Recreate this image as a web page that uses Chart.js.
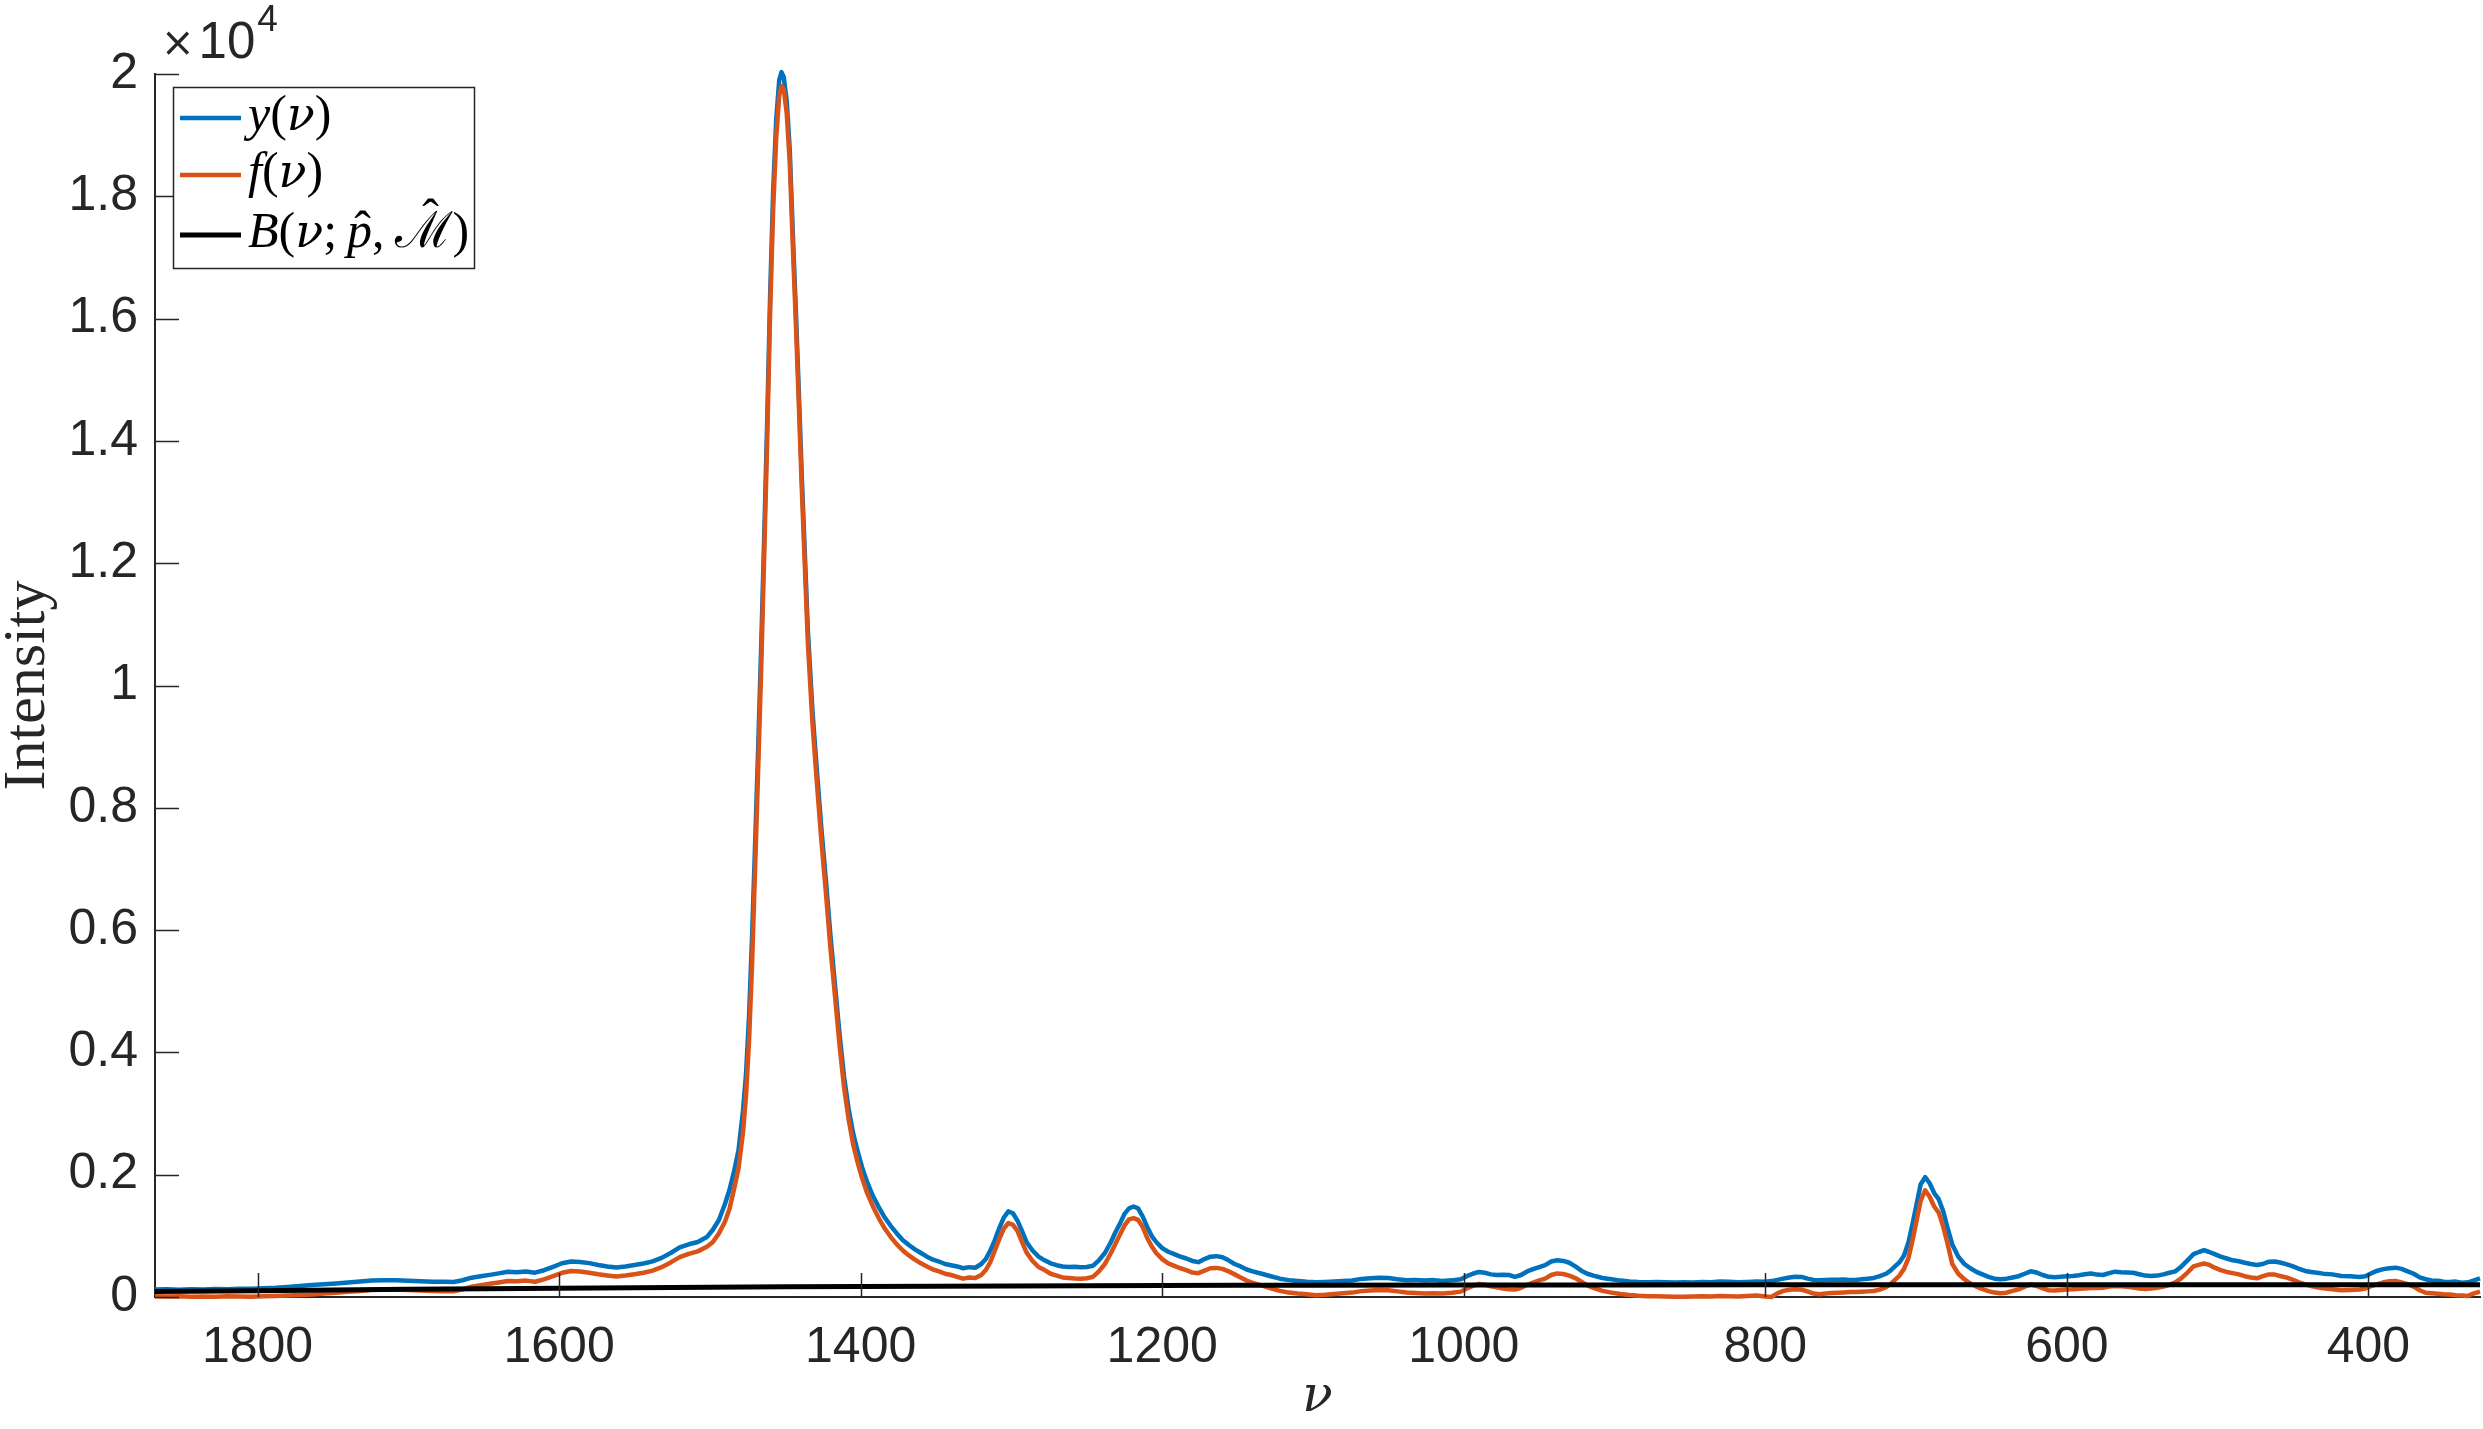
<!DOCTYPE html>
<html>
<head>
<meta charset="utf-8">
<title>Spectrum and baseline fit</title>
<script src="https://cdn.jsdelivr.net/npm/chart.js@4.4.1/dist/chart.umd.min.js"></script>
<style>
  html, body { margin: 0; padding: 0; background: #fff; }
  #wrap { width: 2483px; height: 1429px; }
</style>
</head>
<body>
<div id="wrap"><canvas id="spectrum" width="2483" height="1429"></canvas></div>
<script>
// ============ Data ============

// wavenumber grid (shared by y and f)
const nu = [
  1868, 1860, 1852, 1844, 1836, 1828, 1820, 1812, 1804, 1796,
  1788, 1780, 1772, 1764, 1756, 1748, 1740, 1732, 1724, 1716,
  1708, 1700, 1692, 1684, 1676, 1670, 1664, 1658, 1652, 1646,
  1640, 1634, 1628, 1622, 1616, 1610, 1604, 1598, 1592, 1586,
  1580, 1574, 1568, 1562, 1556, 1550, 1544, 1538, 1532, 1526,
  1520, 1514, 1508, 1502, 1498, 1494, 1490, 1487, 1484, 1481,
  1478, 1476, 1474, 1472, 1470, 1468, 1466, 1464, 1462, 1460,
  1458, 1456, 1454, 1452.5, 1451, 1449, 1447, 1445, 1443, 1441,
  1439, 1437, 1435, 1432, 1429, 1426, 1423, 1420, 1417, 1414,
  1411, 1408, 1405, 1402, 1399, 1396, 1392, 1388, 1384, 1380,
  1376, 1372, 1368, 1364, 1360, 1356, 1352, 1348, 1344, 1340,
  1336, 1332, 1328, 1324, 1320, 1317, 1314, 1311, 1308, 1305,
  1302, 1299, 1296, 1293, 1290, 1286, 1282, 1278, 1274, 1270,
  1266, 1262, 1258, 1254, 1250, 1246, 1242, 1238, 1234, 1231,
  1228, 1225, 1222, 1219, 1216, 1213, 1210, 1207, 1204, 1200,
  1196, 1192, 1188, 1184, 1180, 1176, 1172, 1168, 1164, 1160,
  1156, 1152, 1148, 1144, 1140, 1134, 1128, 1122, 1116, 1110,
  1104, 1098, 1092, 1086, 1080, 1074, 1068, 1062, 1056, 1050,
  1044, 1038, 1032, 1026, 1020, 1014, 1008, 1002, 998, 994,
  990, 986, 982, 978, 974, 970, 966, 962, 958, 954,
  950, 946, 942, 938, 934, 930, 926, 922, 918, 914,
  908, 902, 896, 890, 884, 878, 872, 866, 860, 854,
  848, 842, 836, 830, 824, 818, 812, 806, 800, 796,
  792, 788, 784, 780, 776, 772, 768, 764, 760, 756,
  752, 748, 744, 740, 736, 732, 728, 724, 720, 717,
  714, 711, 708, 705, 702, 699, 697, 694, 691, 688,
  685, 682, 679, 676, 672, 668, 664, 660, 656, 652,
  648, 644, 640, 636, 632, 628, 624, 620, 616, 612,
  608, 604, 600, 596, 592, 588, 584, 580, 576, 572,
  568, 564, 560, 556, 552, 548, 544, 540, 536, 532,
  528, 524, 520, 516, 512, 509, 506, 502, 498, 494,
  490, 486, 482, 478, 474, 470, 466, 462, 458, 454,
  450, 446, 442, 438, 434, 430, 424, 418, 412, 406,
  402, 398, 394, 390, 386, 382, 378, 374, 370, 366,
  362, 358, 354, 350, 346, 342, 338, 334, 330, 326
];

// measured spectrum y(nu)
const ySpectrum = [
  122, 128, 120, 126, 124, 132, 128, 134, 136, 142,
  150, 164, 178, 196, 210, 222, 238, 254, 268, 272,
  274, 266, 256, 248, 250, 246, 274, 316, 338, 362,
  386, 412, 404, 418, 398, 438, 492, 552, 580, 574,
  554, 524, 500, 482, 500, 522, 548, 582, 640, 720,
  812, 862, 900, 980, 1100, 1260, 1520, 1750, 2050, 2400,
  3050, 3650, 4600, 5900, 7400, 8950, 10600, 12400, 14300, 16400,
  18100, 19250, 19900, 20030, 19950, 19550, 18750, 17400, 16150, 14800,
  13400, 12150, 10900, 9600, 8600, 7650, 6800, 5900, 5100, 4300,
  3600, 3080, 2680, 2380, 2120, 1900, 1660, 1470, 1300, 1160,
  1040, 930, 850, 780, 720, 660, 610, 580, 540, 520,
  500, 470, 488, 478, 540, 620, 760, 930, 1130, 1300,
  1400, 1370, 1250, 1080, 900, 760, 660, 600, 550, 520,
  500, 490, 494, 486, 492, 510, 600, 720, 900, 1060,
  1200, 1360, 1450, 1480, 1450, 1320, 1150, 1000, 900, 800,
  740, 700, 660, 630, 590, 570, 620, 660, 668, 650,
  600, 540, 500, 450, 420, 380, 340, 300, 276, 262,
  248, 240, 246, 252, 260, 270, 296, 306, 314, 312,
  290, 274, 280, 270, 276, 262, 272, 290, 340, 380,
  410, 396, 370, 358, 364, 360, 330, 360, 418, 454,
  488, 520, 580, 600, 590, 560, 500, 430, 380, 350,
  310, 290, 268, 252, 244, 240, 246, 242, 236, 240,
  236, 246, 240, 252, 248, 240, 246, 252, 248, 260,
  280, 300, 320, 330, 328, 300, 280, 272, 280, 284,
  282, 286, 280, 278, 290, 300, 312, 340, 380, 430,
  500, 570, 680, 900, 1240, 1600, 1840, 1960, 1860, 1700,
  1600, 1400, 1120, 860, 660, 540, 470, 410, 370, 330,
  300, 290, 300, 320, 340, 380, 420, 400, 360, 330,
  322, 330, 340, 344, 356, 372, 384, 366, 360, 390,
  414, 404, 400, 396, 372, 350, 342, 350, 370, 396,
  420, 500, 600, 700, 740, 765, 740, 700, 660, 630,
  600, 584, 560, 540, 524, 540, 578, 580, 560, 534,
  500, 460, 426, 410, 396, 382, 370, 344, 338, 326,
  340, 390, 430, 456, 470, 480, 460, 420, 380, 320,
  290, 270, 266, 250, 246, 252, 234, 240, 270, 305
];

// baseline-corrected spectrum f(nu)
const fCorrected = [
  12, 8, 14, 6, 10, 4, 12, 8, 6, 14,
  18, 24, 32, 42, 58, 68, 84, 100, 118, 124,
  122, 114, 106, 98, 96, 92, 124, 168, 192, 216,
  238, 262, 258, 268, 250, 288, 340, 396, 424, 418,
  398, 372, 350, 334, 350, 372, 396, 432, 488, 566,
  652, 706, 746, 820, 900, 1040, 1230, 1440, 1760, 2100,
  2700, 3300, 4200, 5450, 7000, 8600, 10250, 12100, 14000, 16150,
  17800, 18950, 19650, 19800, 19760, 19350, 18550, 17200, 15950, 14600,
  13200, 11950, 10700, 9400, 8400, 7450, 6600, 5700, 4920, 4120,
  3430, 2910, 2500, 2200, 1940, 1720, 1490, 1290, 1120, 980,
  860, 760, 680, 610, 550, 500, 450, 420, 380, 360,
  330, 300, 318, 310, 360, 440, 570, 760, 950, 1120,
  1210, 1180, 1080, 900, 730, 590, 490, 440, 380, 350,
  320, 310, 302, 300, 306, 330, 420, 540, 720, 870,
  1020, 1170, 1270, 1290, 1260, 1150, 970, 830, 720, 620,
  550, 510, 470, 440, 400, 390, 430, 470, 476, 460,
  420, 370, 320, 270, 230, 190, 140, 100, 72, 56,
  44, 30, 36, 48, 62, 72, 96, 106, 114, 110,
  92, 72, 64, 56, 60, 58, 70, 88, 140, 180,
  214, 200, 176, 160, 140, 126, 122, 150, 200, 236,
  272, 300, 360, 386, 376, 350, 310, 250, 190, 150,
  100, 72, 48, 32, 20, 14, 12, 10, 6, 4,
  8, 14, 10, 18, 14, 10, 16, 24, 8, 0,
  60, 100, 118, 126, 120, 90, 56, 46, 58, 66,
  70, 74, 80, 82, 86, 92, 98, 120, 160, 210,
  280, 350, 460, 640, 970, 1330, 1570, 1745, 1640, 1480,
  1380, 1150, 860, 540, 380, 290, 220, 170, 130, 96,
  72, 60, 70, 100, 124, 170, 204, 180, 140, 110,
  106, 114, 124, 126, 134, 140, 146, 148, 152, 170,
  180, 174, 166, 154, 140, 132, 140, 150, 170, 200,
  240, 310, 400, 500, 530, 548, 530, 480, 440, 410,
  390, 370, 340, 320, 306, 340, 370, 366, 340, 316,
  280, 240, 206, 180, 160, 142, 128, 110, 116, 124,
  140, 180, 210, 240, 256, 262, 240, 210, 170, 110,
  70, 60, 52, 44, 40, 30, 24, 18, 60, 87
];

// fitted baseline B(nu; p, M)
const nuBase = [1868, 1800, 1750, 1700, 1650, 1600, 1550, 1500, 1450, 1400, 1350, 1300,
                1250, 1200, 1150, 1100, 1000, 900, 800, 700, 600, 500, 400, 326];
const baseline = [88, 104, 116, 126, 136, 145, 153, 160, 166, 172, 177, 181,
                  185, 188, 191, 193, 196, 198, 200, 201, 201, 202, 202, 202];

// axes
const xTicks = [1800, 1600, 1400, 1200, 1000, 800, 600, 400];
const yTicks = [0, 2000, 4000, 6000, 8000, 10000, 12000, 14000, 16000, 18000, 20000];
const yTickLabels = ['0', '0.2', '0.4', '0.6', '0.8', '1', '1.2', '1.4', '1.6', '1.8', '2'];

// legend text, split into [text, font, hat] pieces
// font: 'i' italic serif, 'r' upright serif, 'g' greek italic
const legendLabels = [
    [['y', 'i'], ['(', 'r'], ['ν', 'g'], [')', 'r']],
    [['f', 'i'], ['(', 'r'], ['ν', 'g'], [')', 'r']],
    [['B', 'i'], ['(', 'r'], ['ν', 'g'], [';\u2009', 'r'], ['p', 'i', 'low'], [',\u2009', 'r'], ['ℳ', 'r', 'high'], [')', 'r']]
];

const BLUE = '#0072BD';
const ORANGE = '#D95319';
const AXIS = '#262626';

// ============ Helpers ============

function pairs(xs, ys) {
    return xs.map((x, i) => ({ x: x, y: ys[i] }));
}

function fontFor(kind, size) {
    if (kind === 'g') return 'italic ' + Math.round(size * 0.92) + 'px "DejaVu Serif", serif';
    if (kind === 'i') return 'italic ' + size + 'px "Liberation Serif", serif';
    return size + 'px "Liberation Serif", "DejaVu Serif", serif';
}

function drawRichText(ctx, parts, x, y, size) {
    parts.forEach(([txt, kind, hat]) => {
        ctx.font = fontFor(kind, size);
        ctx.fillText(txt, x, y);
        const w = ctx.measureText(txt).width;
        if (hat) {
            ctx.save();
            ctx.font = size + 'px "Liberation Serif", serif';
            ctx.textAlign = 'center';
            const lift = hat === 'high' ? size * 0.26 : size * 0.02;
            ctx.fillText('\u02C6', x + w / 2 + w * 0.12, y - lift);
            ctx.restore();
        }
        x += w;
    });
}

// ============ Plugins ============

const innerTicks = {
    id: 'innerTicks',
    afterDatasetsDraw(chart) {
        const { ctx, chartArea, scales } = chart;
        const len = 24;
        ctx.save();
        ctx.strokeStyle = AXIS;
        ctx.lineWidth = 1.5;
        ctx.beginPath();
        scales.x.ticks.forEach(t => {
            const px = Math.round(scales.x.getPixelForValue(t.value)) + 0.5;
            ctx.moveTo(px, chartArea.bottom);
            ctx.lineTo(px, chartArea.bottom - len);
        });
        scales.y.ticks.forEach(t => {
            const py = Math.round(scales.y.getPixelForValue(t.value)) + 0.5;
            ctx.moveTo(chartArea.left, py);
            ctx.lineTo(chartArea.left + len, py);
        });
        ctx.stroke();
        ctx.restore();
    }
};

const boxedLegend = {
    id: 'boxedLegend',
    afterDraw(chart) {
        const { ctx, chartArea } = chart;
        const left = chartArea.left + 18;
        const top = chartArea.top + 13;
        ctx.save();

        // exponent label above the y axis
        ctx.fillStyle = AXIS;
        ctx.textBaseline = 'alphabetic';
        ctx.textAlign = 'left';
        ctx.font = '40px "DejaVu Sans", sans-serif';
        ctx.fillText('×', chartArea.left + 6, chartArea.top - 18);
        const wx = ctx.measureText('×').width;
        ctx.font = '51px "Liberation Sans", Arial, sans-serif';
        ctx.fillText('10', chartArea.left + 10 + wx, chartArea.top - 16);
        const w10 = ctx.measureText('10').width;
        ctx.font = '37px "Liberation Sans", Arial, sans-serif';
        ctx.fillText('4', chartArea.left + 12 + wx + w10, chartArea.top - 43);

        // legend box
        ctx.fillStyle = '#fff';
        ctx.fillRect(left, top, 301, 181);
        ctx.strokeStyle = AXIS;
        ctx.lineWidth = 1.5;
        ctx.strokeRect(left + 0.5, top + 0.5, 301, 181);

        const rows = [31, 88, 148];
        chart.data.datasets.forEach((ds, i) => {
            const ry = top + rows[i];
            ctx.strokeStyle = ds.borderColor;
            ctx.lineWidth = ds.borderWidth;
            ctx.beginPath();
            ctx.moveTo(left + 7, ry);
            ctx.lineTo(left + 68, ry);
            ctx.stroke();
            ctx.fillStyle = '#000';
            drawRichText(ctx, legendLabels[i], left + 75, ry + 12, 50);
        });
        ctx.restore();
    }
};

// ============ Chart ============

const ctx = document.getElementById('spectrum').getContext('2d');

new Chart(ctx, {
    type: 'line',
    data: {
        datasets: [
            {
                label: 'y(ν)',
                data: pairs(nu, ySpectrum),
                borderColor: BLUE,
                borderWidth: 4.5,
                order: 2,
                clip: false
            },
            {
                label: 'f(ν)',
                data: pairs(nu, fCorrected),
                borderColor: ORANGE,
                borderWidth: 4.5,
                order: 1,
                clip: false
            },
            {
                label: 'B(ν; p̂, M̂)',
                data: pairs(nuBase, baseline),
                borderColor: '#000',
                borderWidth: 5,
                order: 0,
                clip: false
            }
        ]
    },
    options: {
        responsive: false,
        animation: false,
        devicePixelRatio: 1,
        layout: { padding: { top: 74, right: 3, bottom: 0, left: 0 } },
        elements: {
            point: { radius: 0, hoverRadius: 0 },
            line: { tension: 0, fill: false, borderJoinStyle: 'round' }
        },
        plugins: {
            legend: { display: false },
            tooltip: { enabled: false }
        },
        scales: {
            x: {
                type: 'linear',
                reverse: true,
                min: 326,
                max: 1868,
                afterFit: (scale) => { scale.height = 132; },
                afterBuildTicks: (scale) => { scale.ticks = xTicks.map(v => ({ value: v })); },
                grid: { display: false, drawTicks: false },
                border: { display: true, color: AXIS, width: 2 },
                ticks: {
                    padding: 21,
                    color: AXIS,
                    maxRotation: 0,
                    autoSkip: false,
                    font: { family: '"Liberation Sans", Arial, sans-serif', size: 50 },
                    callback: (v) => String(v)
                },
                title: {
                    display: true,
                    text: 'ν',
                    color: AXIS,
                    font: { family: '"DejaVu Serif", serif', style: 'italic', size: 50, lineHeight: 1 },
                    padding: { top: 0, bottom: 6 }
                }
            },
            y: {
                min: 0,
                max: 20000,
                afterFit: (scale) => { scale.width = 155; },
                afterBuildTicks: (scale) => { scale.ticks = yTicks.map(v => ({ value: v })); },
                grid: { display: false, drawTicks: false },
                border: { display: true, color: AXIS, width: 2 },
                ticks: {
                    padding: 17,
                    color: AXIS,
                    autoSkip: false,
                    font: { family: '"Liberation Sans", Arial, sans-serif', size: 50 },
                    callback: (v) => yTickLabels[yTicks.indexOf(v)]
                },
                title: {
                    display: true,
                    text: 'Intensity',
                    color: AXIS,
                    font: { family: '"Liberation Serif", serif', size: 60, lineHeight: 0.9 },
                    padding: { top: 1, bottom: 0 }
                }
            }
        }
    },
    plugins: [innerTicks, boxedLegend]
});
</script>
</body>
</html>
